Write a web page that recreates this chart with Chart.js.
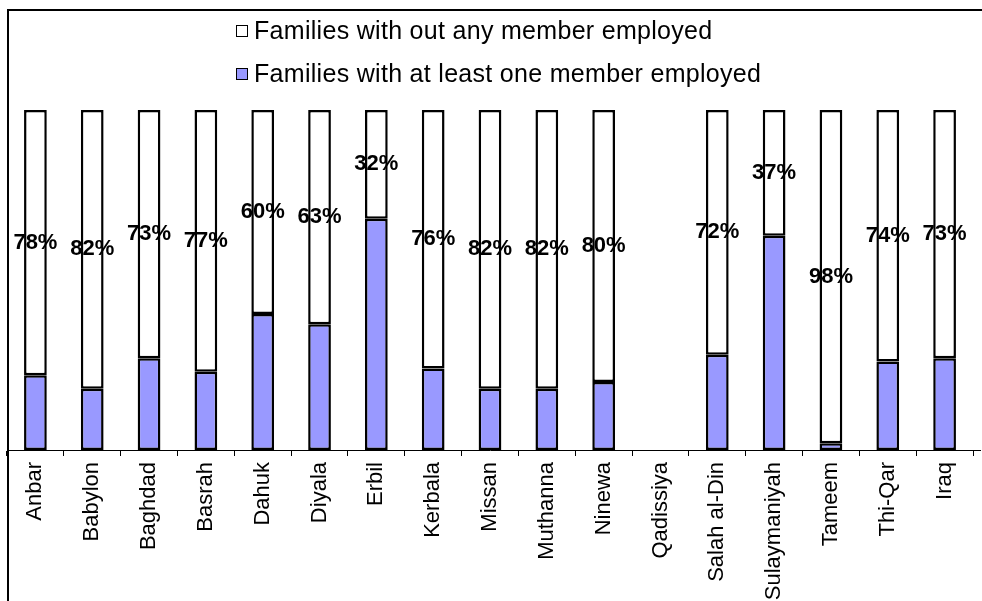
<!DOCTYPE html>
<html>
<head>
<meta charset="utf-8">
<script src="https://cdn.jsdelivr.net/npm/chart.js@4/dist/chart.umd.min.js"></script>
<style>
  html, body { margin: 0; padding: 0; background: #fff; }
  #wrap { position: relative; width: 982px; height: 601px; }
  #legend {
    position: absolute; left: 236px; top: 9px;
    font: 25px "Liberation Sans", Arial, sans-serif; color: #000;
    letter-spacing: 0.3px;
  }
  .item { display: flex; align-items: center; height: 43px; white-space: nowrap; }
  .box { width: 10px; height: 10px; border: 1.5px solid #000; margin-right: 6px; }
</style>
</head>
<body>
<div id="wrap">
  <canvas id="chart" width="982" height="601"></canvas>
  <div id="legend"></div>
</div>
<script>
// Governorates (plus national total)
const categories = ['Anbar', 'Babylon', 'Baghdad', 'Basrah', 'Dahuk', 'Diyala', 'Erbil', 'Kerbala',
  'Missan', 'Muthanna', 'Ninewa', 'Qadissiya', 'Salah al-Din', 'Sulaymaniyah', 'Tameem', 'Thi-Qar', 'Iraq'];

// Share of families (%), Qadissiya has no data
const withEmployed    = [22, 18, 27, 23, 40, 37, 68, 24, 18, 18, 20, null, 28, 63, 2, 26, 27];
const withoutEmployed = [78, 82, 73, 77, 60, 63, 32, 76, 82, 82, 80, null, 72, 37, 98, 74, 73];

const FONT = '"Liberation Sans", Arial, sans-serif';
const PURPLE = '#9999FF';

// outer frame (top + left edge) and the axis line running to the right edge
const framePlugin = {
  id: 'frame',
  beforeDraw(chart) {
    const c = chart.ctx;
    c.save();
    c.fillStyle = '#000';
    c.fillRect(7, 9, 975, 2);
    c.fillRect(7, 9, 2, 592);
    c.restore();
  },
  afterDraw(chart) {
    const c = chart.ctx;
    const a = chart.chartArea;
    c.save();
    c.strokeStyle = '#000';
    c.lineWidth = 1;
    c.beginPath();
    c.moveTo(a.right, Math.round(a.bottom) + 0.5);
    c.lineTo(981, Math.round(a.bottom) + 0.5);
    c.stroke();
    c.restore();
  }
};

// percentage labels centred in the white segments
const labelPlugin = {
  id: 'pctLabels',
  afterDatasetsDraw(chart) {
    const c = chart.ctx;
    const meta = chart.getDatasetMeta(1);
    c.save();
    c.font = 'bold 22px ' + FONT;
    c.fillStyle = '#000';
    c.textAlign = 'center';
    c.textBaseline = 'middle';
    meta.data.forEach((bar, i) => {
      const v = withoutEmployed[i];
      if (v == null) return;
      c.fillText(v + '%', bar.x, (bar.y + bar.base) / 2);
    });
    c.restore();
  }
};

const chart = new Chart(document.getElementById('chart'), {
  type: 'bar',
  data: {
    labels: categories,
    datasets: [{
      label: 'Families with at least one member employed',
      data: withEmployed,
      backgroundColor: PURPLE,
      borderColor: '#000',
      borderWidth: 2.5,
      borderSkipped: false
    }, {
      label: 'Families with out any member employed',
      data: withoutEmployed,
      backgroundColor: '#fff',
      borderColor: '#000',
      borderWidth: 2.5,
      borderSkipped: false
    }]
  },
  options: {
    responsive: false,
    animation: false,
    layout: { padding: { top: 110, left: 7, right: 9, bottom: 0 } },
    datasets: { bar: { categoryPercentage: 1, barPercentage: 0.4 } },
    plugins: {
      legend: { display: false },
      tooltip: { enabled: false }
    },
    scales: {
      x: {
        stacked: true,
        afterFit(scale) { scale.height = 151; },
        border: { display: true, color: '#000', width: 1 },
        grid: { display: true, drawOnChartArea: false, drawTicks: true, tickLength: 6, color: '#000', offset: true },
        ticks: {
          color: '#000',
          font: { family: FONT, size: 22 },
          minRotation: 90,
          maxRotation: 90,
          autoSkip: false,
          padding: 6
        }
      },
      y: {
        stacked: true,
        display: false,
        min: 0,
        max: 100
      }
    }
  },
  plugins: [framePlugin, labelPlugin]
});

// legend, white series listed first
const legendEl = document.getElementById('legend');
[1, 0].forEach(idx => {
  const ds = chart.data.datasets[idx];
  const row = document.createElement('div');
  row.className = 'item';
  const box = document.createElement('span');
  box.className = 'box';
  box.style.background = ds.backgroundColor;
  row.appendChild(box);
  row.appendChild(document.createTextNode(ds.label));
  legendEl.appendChild(row);
});
</script>
</body>
</html>
